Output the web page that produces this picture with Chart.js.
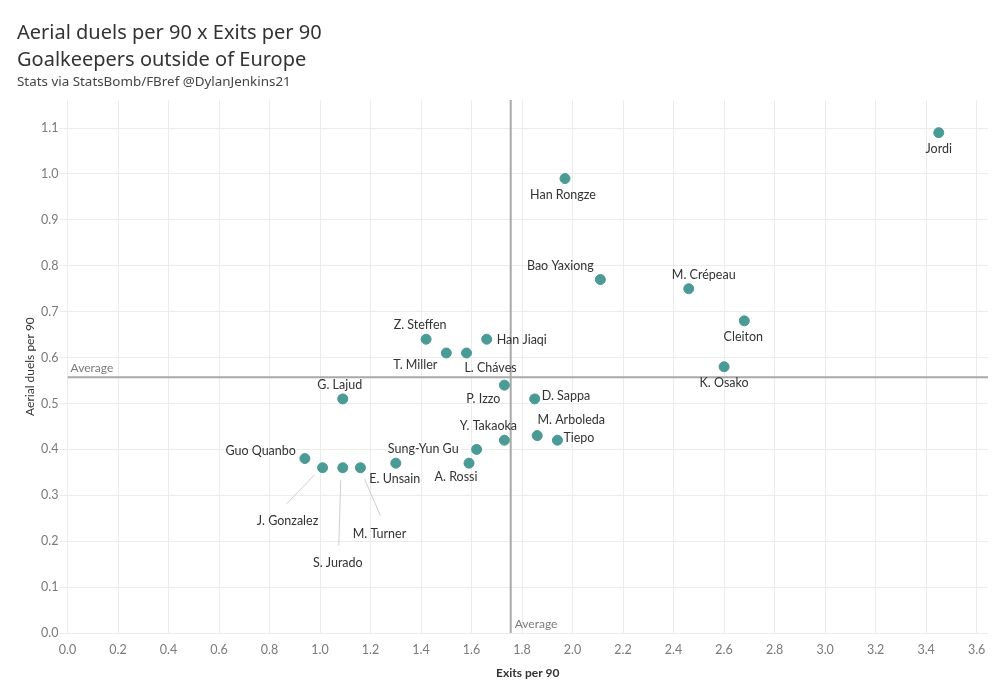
<!DOCTYPE html>
<html>
<head>
<meta charset="utf-8">
<script src="https://cdn.jsdelivr.net/npm/chart.js@4/dist/chart.umd.min.js"></script>
<style>
  body { margin: 0; background: #fff; }
  #wrap { width: 1000px; height: 700px; }
</style>
</head>
<body>
<div id="wrap"><canvas id="gkChart" width="1000" height="700"></canvas></div>
<script>
// goalkeepers outside of Europe
const players = ["Jordi", "Han Rongze", "Bao Yaxiong", "M. Crépeau", "Cleiton", "K. Osako",
  "Han Jiaqi", "L. Cháves", "T. Miller", "Z. Steffen", "G. Lajud", "P. Izzo", "D. Sappa",
  "M. Arboleda", "Tiepo", "Y. Takaoka", "Sung-Yun Gu", "A. Rossi", "E. Unsain", "Guo Quanbo",
  "J. Gonzalez", "S. Jurado", "M. Turner"];
const exits = [3.45, 1.97, 2.11, 2.46, 2.68, 2.60,
  1.66, 1.58, 1.50, 1.42, 1.09, 1.73, 1.85,
  1.86, 1.94, 1.73, 1.62, 1.59, 1.30, 0.94,
  1.01, 1.09, 1.16];
const aerials = [1.09, 0.99, 0.77, 0.75, 0.68, 0.58,
  0.64, 0.61, 0.61, 0.64, 0.51, 0.54, 0.51,
  0.43, 0.42, 0.42, 0.40, 0.37, 0.37, 0.38,
  0.36, 0.36, 0.36];
const avgExits = 1.755;
const avgAerials = 0.557;
const xTicks = [0.0, 0.2, 0.4, 0.6, 0.8, 1.0, 1.2, 1.4, 1.6, 1.8, 2.0, 2.2, 2.4, 2.6, 2.8, 3.0, 3.2, 3.4, 3.6];
const yTicks = [0.0, 0.1, 0.2, 0.3, 0.4, 0.5, 0.6, 0.7, 0.8, 0.9, 1.0, 1.1];

const X_MAX = 3.645, Y_MAX = 1.161;
const FONT = "Lato, 'Noto Sans', sans-serif";
const TITLE_FONT = "'Noto Sans', Lato, sans-serif";

// label placement: [dx, dy, align], and optional leader line [x1, y1, x2, y2] (px from the dot)
const labelPos = {
  "Jordi": [0, 16, "center"],
  "Han Rongze": [-2, 16, "center"],
  "Bao Yaxiong": [-40, -14, "center"],
  "M. Crépeau": [15, -14, "center"],
  "Cleiton": [-1, 16, "center"],
  "K. Osako": [0, 16, "center"],
  "Han Jiaqi": [10, 1, "left"],
  "L. Cháves": [24, 15, "center"],
  "T. Miller": [-31, 12, "center"],
  "Z. Steffen": [-6, -14, "center"],
  "G. Lajud": [-3, -14, "center"],
  "P. Izzo": [-21, 14, "center"],
  "D. Sappa": [7, -3, "left"],
  "M. Arboleda": [34, -16, "center"],
  "Tiepo": [6, -2, "left"],
  "Y. Takaoka": [-16, -14, "center"],
  "Sung-Yun Gu": [-18, 0, "right"],
  "A. Rossi": [-13, 14, "center"],
  "E. Unsain": [-1, 16, "center"],
  "Guo Quanbo": [-9, -8, "right"],
  "J. Gonzalez": [-35, 53, "center"],
  "S. Jurado": [-5, 95, "center"],
  "M. Turner": [19, 66, "center"]
};
const leaders = {
  "J. Gonzalez": [-8, 7, -36, 36],
  "S. Jurado": [-2, 12, -4, 78],
  "M. Turner": [4, 11, 20, 48]
};

const labelPlugin = {
  id: "pointLabels",
  afterDatasetsDraw(chart) {
    const ctx = chart.ctx;
    const meta = chart.getDatasetMeta(0);
    const xs = chart.scales.x, ys = chart.scales.y;
    ctx.save();
    // leader lines
    ctx.strokeStyle = "#cfcfcf";
    ctx.lineWidth = 1;
    meta.data.forEach((pt, i) => {
      const l = leaders[players[i]];
      if (!l) return;
      ctx.beginPath();
      ctx.moveTo(pt.x + l[0], pt.y + l[1]);
      ctx.lineTo(pt.x + l[2], pt.y + l[3]);
      ctx.stroke();
    });
    // names
    ctx.font = "12.5px " + FONT;
    ctx.fillStyle = "#333";
    ctx.textBaseline = "middle";
    meta.data.forEach((pt, i) => {
      const p = labelPos[players[i]] || [0, 16, "center"];
      ctx.textAlign = p[2];
      ctx.fillText(players[i], pt.x + p[0], pt.y + p[1]);
    });
    // average labels
    ctx.font = "12px " + FONT;
    ctx.fillStyle = "#7a7a7a";
    ctx.textAlign = "left";
    ctx.fillText("Average", chart.chartArea.left + 3, ys.getPixelForValue(avgAerials) - 9);
    ctx.fillText("Average", xs.getPixelForValue(avgExits) + 4, chart.chartArea.bottom - 9);
    ctx.restore();
  }
};

function keepTicks(list) {
  return function (scale) {
    scale.ticks = list.map(v => ({ value: v }));
  };
}

const ctx = document.getElementById("gkChart").getContext("2d");
const chart = new Chart(ctx, {
  type: "scatter",
  data: {
    datasets: [
      {
        label: "Goalkeepers",
        data: exits.map((x, i) => ({ x: x, y: aerials[i] })),
        backgroundColor: "#4a9a95",
        borderColor: "#4a9a95",
        pointRadius: 5,
        pointHoverRadius: 5,
        order: 0
      },
      {
        label: "Average aerials",
        data: [{ x: 0, y: avgAerials }, { x: X_MAX, y: avgAerials }],
        showLine: true,
        borderColor: "#a9a9a9",
        borderWidth: 2,
        pointRadius: 0,
        order: 1
      },
      {
        label: "Average exits",
        data: [{ x: avgExits, y: 0 }, { x: avgExits, y: Y_MAX }],
        showLine: true,
        borderColor: "#a9a9a9",
        borderWidth: 2,
        pointRadius: 0,
        order: 1
      }
    ]
  },
  options: {
    responsive: false,
    animation: false,
    layout: { padding: { left: 17, right: 12, top: 0, bottom: 0 } },
    plugins: {
      legend: { display: false },
      tooltip: { enabled: false },
      title: {
        display: true,
        align: "start",
        text: ["Aerial duels per 90 x Exits per 90", "Goalkeepers outside of Europe"],
        color: "#333",
        font: { family: TITLE_FONT, size: 20, weight: "normal", lineHeight: 1.35 },
        padding: { top: 20, bottom: 0 }
      },
      subtitle: {
        display: true,
        align: "start",
        text: "Stats via StatsBomb/FBref @DylanJenkins21",
        color: "#444",
        font: { family: TITLE_FONT, size: 13.4, lineHeight: 1.2 },
        padding: { top: 0, bottom: 10 }
      }
    },
    scales: {
      x: {
        type: "linear",
        min: 0,
        max: X_MAX,
        afterBuildTicks: keepTicks(xTicks),
        afterFit(scale) { scale.height = 67; },
        grid: { color: "#ececec", drawTicks: false },
        border: { display: false },
        ticks: {
          color: "#7a7a7a",
          font: { family: FONT, size: 12.5 },
          padding: 9,
          maxRotation: 0,
          callback: v => v.toFixed(1)
        },
        title: {
          display: true,
          text: "Exits per 90",
          color: "#333",
          font: { family: FONT, size: 12, weight: "bold" },
          padding: { top: 0, bottom: 20 }
        }
      },
      y: {
        type: "linear",
        min: 0,
        max: Y_MAX,
        afterBuildTicks: keepTicks(yTicks),
        afterFit(scale) { scale.width = 50.5; },
        grid: { color: "#ececec", tickLength: 8 },
        border: { display: false },
        ticks: {
          color: "#7a7a7a",
          font: { family: FONT, size: 12.5 },
          padding: 1,
          callback: v => v.toFixed(1)
        },
        title: {
          display: true,
          text: "Aerial duels per 90",
          color: "#333",
          font: { family: FONT, size: 12 },
          padding: { top: 6, bottom: 0 }
        }
      }
    }
  },
  plugins: [labelPlugin]
});
</script>
</body>
</html>
